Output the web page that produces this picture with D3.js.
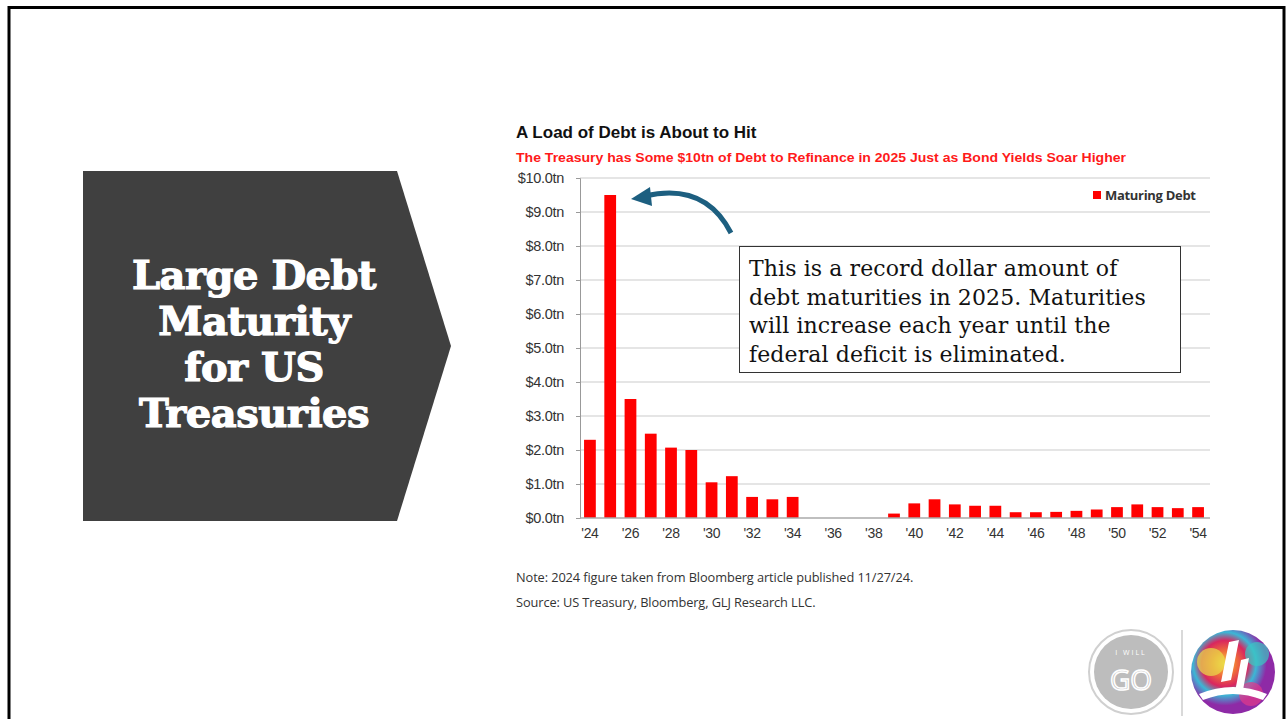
<!DOCTYPE html>
<html>
<head>
<meta charset="utf-8">
<script src="https://cdn.jsdelivr.net/npm/d3@7"></script>
<style>
  body { margin: 0; background: #fff; }
  svg { display: block; }
</style>
</head>
<body>
<div id="chart"></div>
<script>
// chart data
var years = [2024, 2025, 2026, 2027, 2028, 2029, 2030, 2031, 2032, 2033, 2034,
             2035, 2036, 2037, 2038, 2039, 2040, 2041, 2042, 2043, 2044,
             2045, 2046, 2047, 2048, 2049, 2050, 2051, 2052, 2053, 2054];
var maturingDebt = [2.3, 9.5, 3.5, 2.48, 2.07, 2.0, 1.05, 1.23, 0.62, 0.55, 0.62,
                    0, 0, 0, 0, 0.13, 0.43, 0.55, 0.4, 0.36, 0.36,
                    0.17, 0.17, 0.18, 0.21, 0.25, 0.32, 0.4, 0.32, 0.29, 0.32];
var yTicks = [0, 1, 2, 3, 4, 5, 6, 7, 8, 9, 10];
var xTickYears = years.filter(function(y) { return y % 2 === 0; });
var seriesName = "Maturing Debt";
var sideTitle = ["Large Debt", "Maturity", "for US", "Treasuries"];
var calloutLines = ["This is a record dollar amount of",
                    "debt maturities in 2025. Maturities",
                    "will increase each year until the",
                    "federal deficit is eliminated."];

var W = 1288, H = 719;
var svg = d3.select("#chart").append("svg")
  .attr("width", W).attr("height", H);

// slide frame
svg.append("path")
  .attr("d", "M9,719 V7.5 H1284 V719")
  .attr("fill", "none").attr("stroke", "#000").attr("stroke-width", 3);

// left arrow panel
svg.append("path")
  .attr("d", "M83,171 H397 L451,346 L397,521 H83 Z")
  .attr("fill", "#404040");

svg.append("g").selectAll("text")
  .data(sideTitle)
  .enter().append("text")
  .attr("x", 254)
  .attr("y", function(d, i) { return 289 + i * 46; })
  .attr("text-anchor", "middle")
  .attr("fill", "#fff")
  .attr("stroke", "#fff").attr("stroke-width", 1.2)
  .attr("font-family", "'DejaVu Serif', serif")
  .attr("font-weight", "bold")
  .attr("font-size", 40)
  .attr("letter-spacing", -0.5)
  .text(function(d) { return d; });

// chart titles
svg.append("text")
  .attr("x", 516).attr("y", 138)
  .attr("font-family", "'Liberation Sans', Arial, sans-serif")
  .attr("font-weight", "bold").attr("font-size", 17)
  .attr("fill", "#111")
  .text("A Load of Debt is About to Hit");

svg.append("text")
  .attr("x", 516).attr("y", 162)
  .attr("font-family", "'Liberation Sans', Arial, sans-serif")
  .attr("font-weight", "bold").attr("font-size", 12.5)
  .attr("fill", "#ff1a1a")
  .attr("textLength", 610).attr("lengthAdjust", "spacingAndGlyphs")
  .text("The Treasury has Some $10tn of Debt to Refinance in 2025 Just as Bond Yields Soar Higher");

// scales
var x = d3.scaleBand()
  .domain(years)
  .range([580, 1208])
  .paddingInner(0.42)
  .paddingOuter(0.2);

var y = d3.scaleLinear()
  .domain([0, 10])
  .range([518, 178]);

// gridlines
svg.append("g").selectAll("line")
  .data(yTicks.slice(1))
  .enter().append("line")
  .attr("x1", 580).attr("x2", 1210)
  .attr("y1", function(d) { return y(d); })
  .attr("y2", function(d) { return y(d); })
  .attr("stroke", "#dcdcdc").attr("stroke-width", 1.5);

// y axis
var yAxis = svg.append("g")
  .attr("transform", "translate(580,0)")
  .call(d3.axisLeft(y).tickValues(yTicks).tickSize(4).tickPadding(12)
    .tickFormat(function(d) { return "$" + d.toFixed(1) + "tn"; }));
yAxis.select(".domain").attr("stroke", "#999");
yAxis.selectAll(".tick line").attr("stroke", "#999");
yAxis.selectAll("text")
  .attr("font-family", "'Liberation Sans', Arial, sans-serif")
  .attr("font-size", 14.5).attr("fill", "#333")
  .attr("letter-spacing", -0.3);

// bars
svg.append("g").selectAll("rect")
  .data(maturingDebt)
  .enter().append("rect")
  .attr("x", function(d, i) { return x(years[i]); })
  .attr("width", x.bandwidth())
  .attr("y", function(d) { return y(d); })
  .attr("height", function(d) { return y(0) - y(d); })
  .attr("fill", "#ff0000");

// x axis
var xAxis = svg.append("g")
  .attr("transform", "translate(0,518)")
  .call(d3.axisBottom(x).tickValues(xTickYears).tickSize(0).tickPadding(10)
    .tickFormat(function(d) { return "'" + String(d).slice(2); }));
xAxis.select(".domain").attr("stroke", "#aaa").attr("stroke-width", 1.5)
  .attr("d", "M580,0H1210");
xAxis.selectAll("text")
  .attr("font-family", "'Liberation Sans', Arial, sans-serif")
  .attr("font-size", 14).attr("fill", "#333")
  .attr("letter-spacing", -0.3);

// legend
var legend = svg.append("g").attr("transform", "translate(1093,191)");
legend.append("rect").attr("width", 8).attr("height", 8).attr("fill", "#ff0000");
legend.append("text")
  .attr("x", 12).attr("y", 9)
  .attr("font-family", "'Open Sans', sans-serif")
  .attr("font-weight", "bold").attr("font-size", 13)
  .attr("letter-spacing", -0.3)
  .attr("fill", "#333")
  .text(seriesName);

// callout arrow
svg.append("path")
  .attr("d", "M731,233 Q705,182 645,196")
  .attr("fill", "none").attr("stroke", "#1d5f80").attr("stroke-width", 5);
svg.append("path")
  .attr("d", "M631,199 L650,187 L652,206 Z")
  .attr("fill", "#1d5f80");

// callout box
svg.append("rect")
  .attr("x", 739.5).attr("y", 246.5)
  .attr("width", 441).attr("height", 126)
  .attr("fill", "#fff").attr("stroke", "#333").attr("stroke-width", 1);

svg.append("g").selectAll("text")
  .data(calloutLines)
  .enter().append("text")
  .attr("x", 749)
  .attr("y", function(d, i) { return 276 + i * 28.5; })
  .attr("font-family", "'DejaVu Serif', serif")
  .attr("font-size", 22)
  .attr("letter-spacing", 0.1)
  .attr("fill", "#111")
  .text(function(d) { return d; });

// notes
svg.append("text")
  .attr("x", 516).attr("y", 582)
  .attr("font-family", "'Open Sans', sans-serif")
  .attr("font-size", 12.8).attr("fill", "#333")
  .attr("letter-spacing", -0.1)
  .text("Note: 2024 figure taken from Bloomberg article published 11/27/24.");
svg.append("text")
  .attr("x", 516).attr("y", 607)
  .attr("font-family", "'Open Sans', sans-serif")
  .attr("font-size", 12.8).attr("fill", "#333")
  .attr("letter-spacing", -0.1)
  .text("Source: US Treasury, Bloomberg, GLJ Research LLC.");

// logos
var logo1 = svg.append("g").attr("transform", "translate(1131,672)");
logo1.append("circle").attr("r", 42).attr("fill", "none").attr("stroke", "#d0d0d0").attr("stroke-width", 2);
logo1.append("circle").attr("r", 37).attr("fill", "#bdbdbd");
logo1.append("text").attr("y", -17).attr("text-anchor", "middle")
  .attr("font-family", "'Open Sans', sans-serif").attr("font-size", 7)
  .attr("letter-spacing", 2).attr("fill", "#fff").text("I WILL");
logo1.append("text").attr("y", 18).attr("text-anchor", "middle")
  .attr("font-family", "'Open Sans', sans-serif").attr("font-size", 28)
  .attr("fill", "none").attr("stroke", "#fff").attr("stroke-width", 1.5).text("GO");

svg.append("line")
  .attr("x1", 1182).attr("x2", 1182).attr("y1", 630).attr("y2", 716)
  .attr("stroke", "#ccc").attr("stroke-width", 1.5);

var defs = svg.append("defs");
var grad = defs.append("radialGradient").attr("id", "paint").attr("cx", "40%").attr("cy", "40%");
var stops = [["0%", "#f6d040"], ["30%", "#ef6b3a"], ["55%", "#d9265f"], ["75%", "#3bb7d6"], ["100%", "#8e2aa6"]];
stops.forEach(function(s) { grad.append("stop").attr("offset", s[0]).attr("stop-color", s[1]); });
var logo2 = svg.append("g").attr("transform", "translate(1233,672)");
logo2.append("circle").attr("r", 42).attr("fill", "url(#paint)");
logo2.append("circle").attr("cx", -22).attr("cy", -10).attr("r", 14).attr("fill", "#e8e04a").attr("opacity", 0.7);
logo2.append("circle").attr("cx", 24).attr("cy", -18).attr("r", 12).attr("fill", "#3cc6c2").attr("opacity", 0.7);
logo2.append("circle").attr("cx", 18).attr("cy", 22).attr("r", 12).attr("fill", "#e23a8a").attr("opacity", 0.7);
logo2.append("path").attr("d", "M-4,-30 L6,-32 L-2,8 L-12,10 Z").attr("fill", "#fff");
logo2.append("path").attr("d", "M8,-12 L16,-14 L10,18 L2,20 Z").attr("fill", "#fff");
logo2.append("path").attr("d", "M-34,22 Q0,8 34,22 L30,28 Q0,16 -30,28 Z").attr("fill", "#fff");
</script>
</body>
</html>
